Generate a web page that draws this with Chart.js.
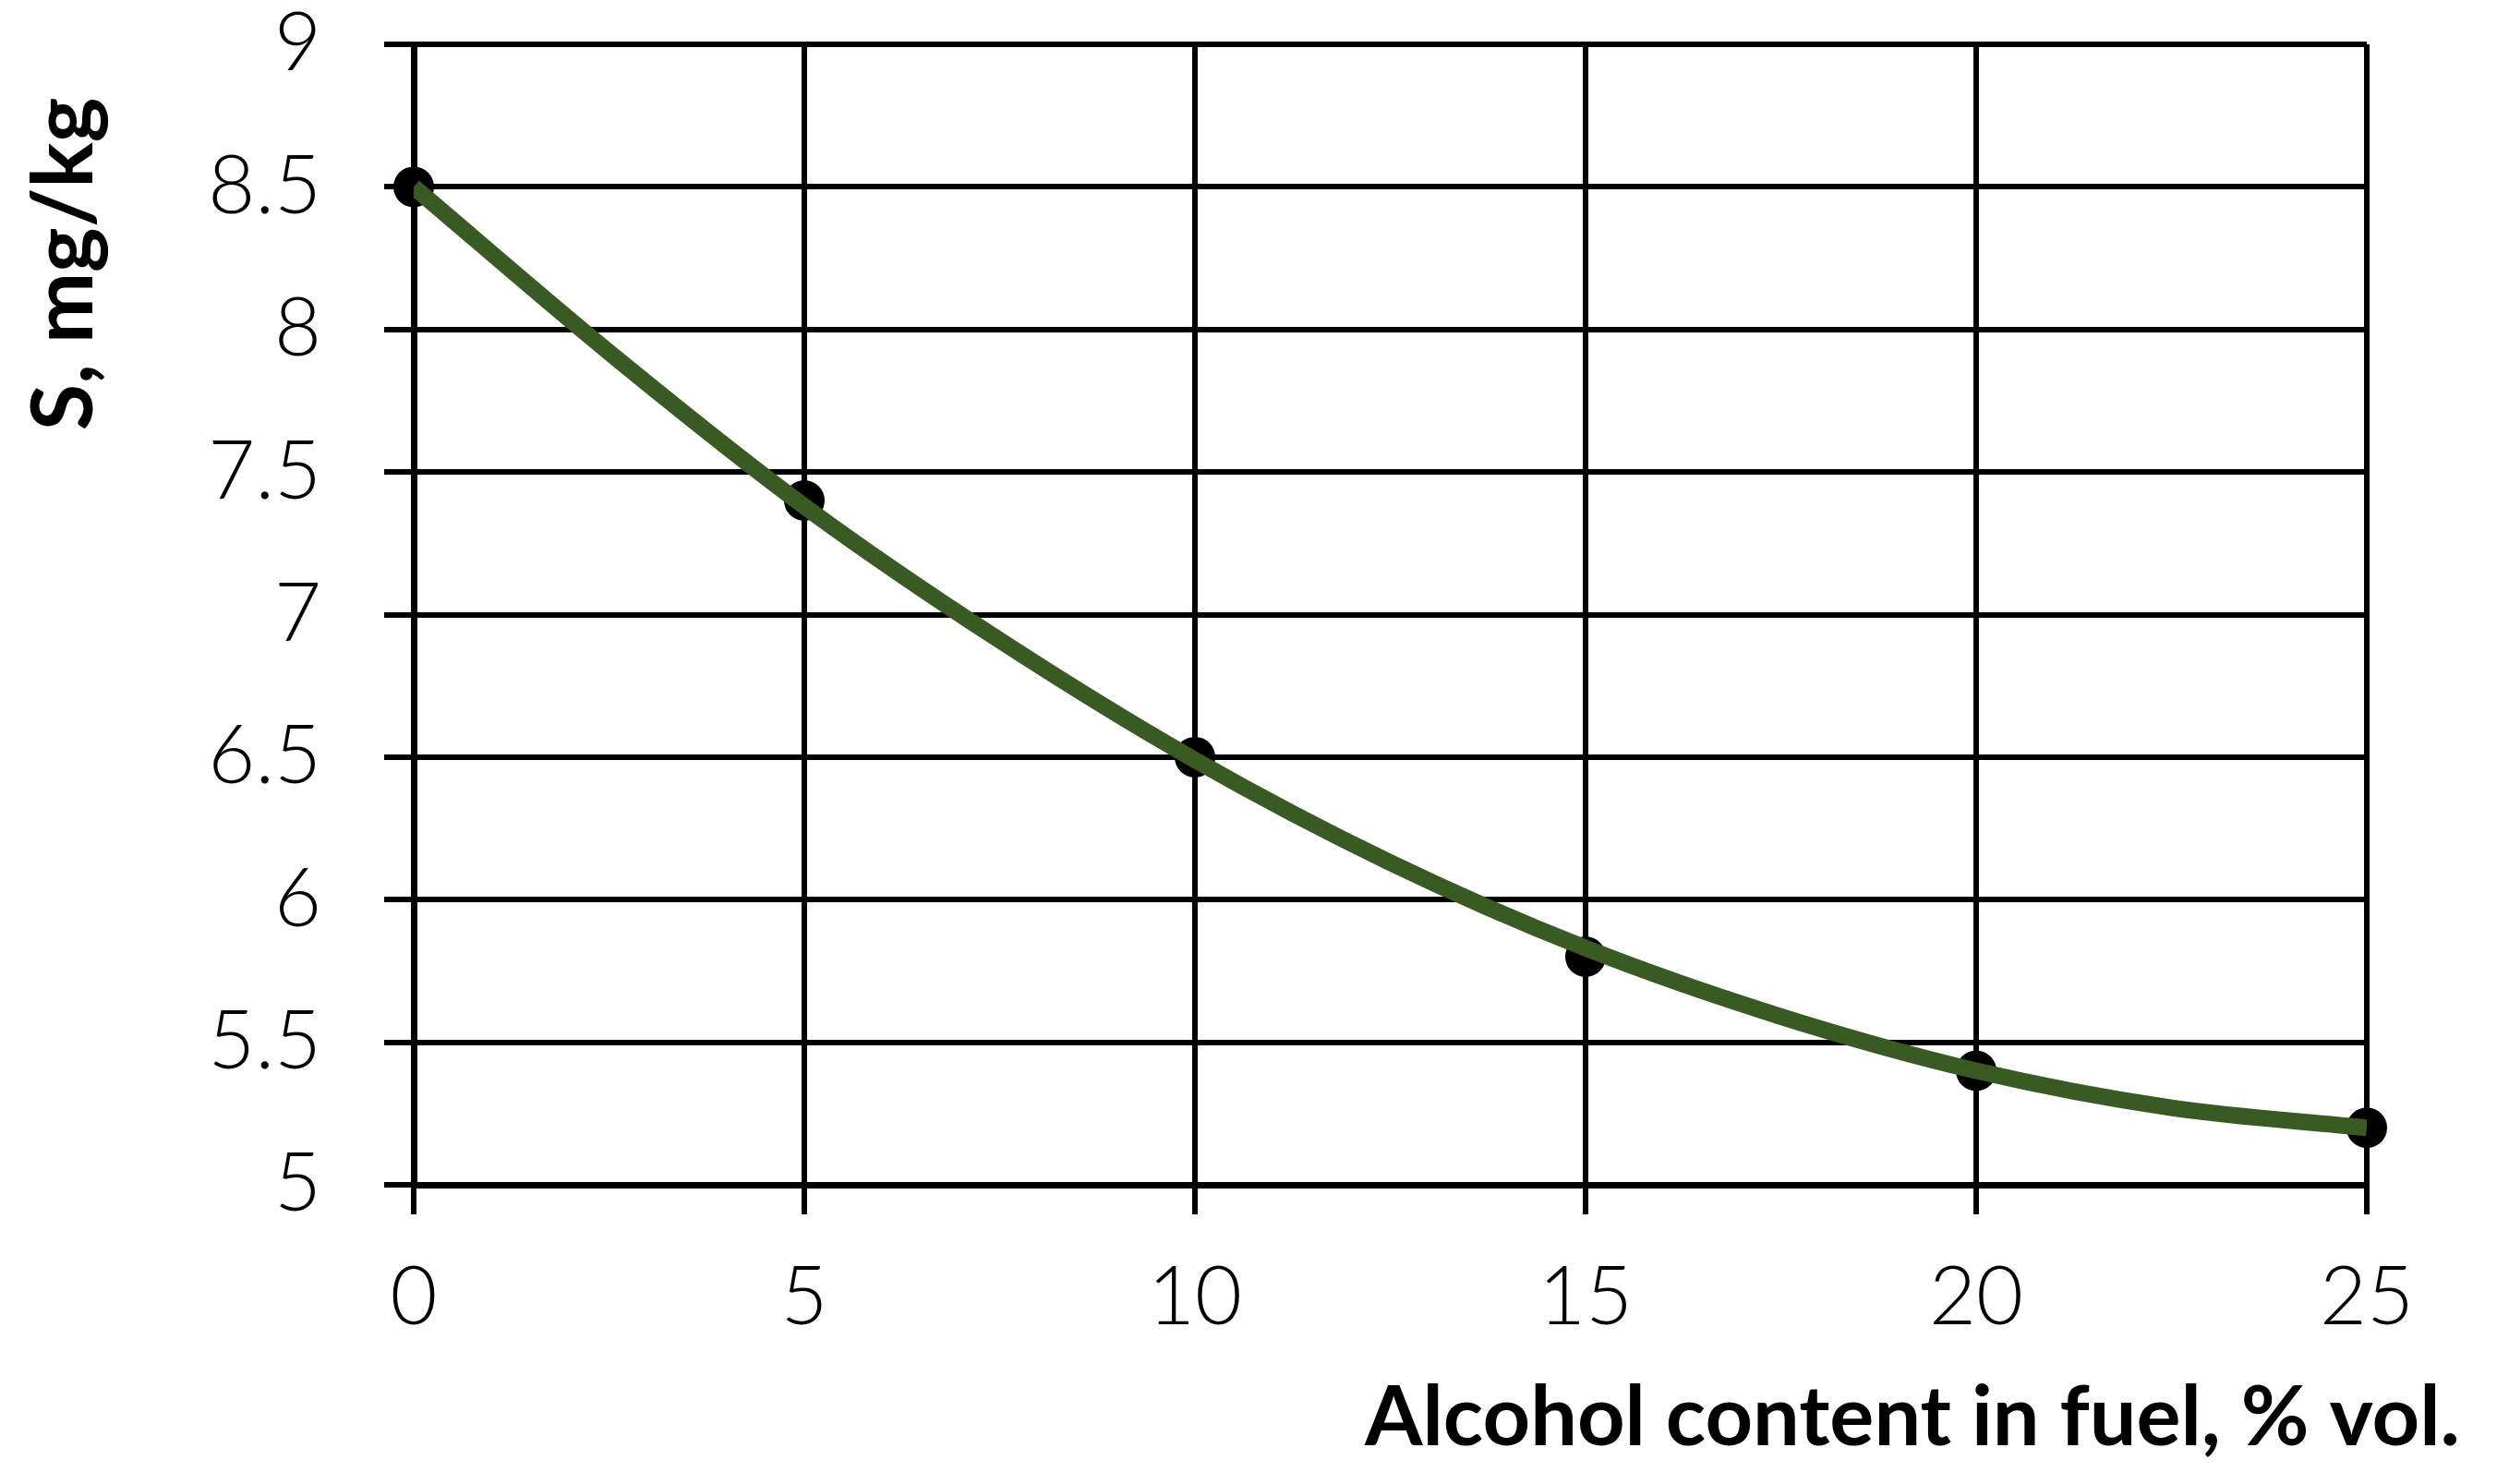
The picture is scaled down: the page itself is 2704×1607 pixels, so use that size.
<!DOCTYPE html>
<html>
<head>
<meta charset="utf-8">
<script src="https://cdn.jsdelivr.net/npm/chart.js@4.4.1/dist/chart.umd.min.js"></script>
<style>
  html, body { margin: 0; padding: 0; background: #fff; }
  canvas { display: block; }
</style>
</head>
<body>
<canvas id="chart" width="2704" height="1607"></canvas>
<script>
// measured points
const alcohol = [0, 5, 10, 15, 20, 25];
const sValues = [8.5, 7.4, 6.5, 5.8, 5.4, 5.2];

// trend curve
const trendX = [0, 2.5, 5, 7.5, 10, 12.5, 15, 17.5, 20, 22.5, 25];
const trendY = [8.5, 7.92, 7.38, 6.91, 6.49, 6.13, 5.83, 5.59, 5.4, 5.27, 5.2];

// axis ticks
const xTickValues = [0, 5, 10, 15, 20, 25];
const xTickLabels = ["0", "5", "10", "15", "20", "25"];
const yTickValues = [5, 5.5, 6, 6.5, 7, 7.5, 8, 8.5, 9];
const yTickLabels = ["5", "5.5", "6", "6.5", "7", "7.5", "8", "8.5", "9"];

const xTitle = "Alcohol content in fuel, % vol.";
const yTitle = "S, mg/kg";

const tickFont = { family: "Lato", size: 88, weight: 300 };

// axis titles sit where the original put them, not where Chart.js would
const axisTitles = {
  id: "axisTitles",
  afterDraw(chart) {
    const ctx = chart.ctx;
    ctx.save();
    ctx.fillStyle = "#000";
    ctx.textAlign = "center";
    ctx.textBaseline = "alphabetic";
    ctx.font = "bold 90px Lato";
    ctx.fillText(xTitle, 2071, 1565, 1222);

    ctx.translate(100, 286);
    ctx.rotate(-Math.PI / 2);
    ctx.font = "bold 92px Lato";
    ctx.fillText(yTitle, 0, 0, 365);
    ctx.restore();
  }
};

new Chart(document.getElementById("chart"), {
  type: "line",
  data: {
    datasets: [
      {
        label: "trend",
        data: trendX.map((x, i) => ({ x: x, y: trendY[i] })),
        borderColor: "#3a5a24",
        borderWidth: 18,
        borderCapStyle: "butt",
        pointRadius: 0,
        cubicInterpolationMode: "monotone",
        fill: false,
        order: 0
      },
      {
        label: "S",
        data: alcohol.map((x, i) => ({ x: x, y: sValues[i] })),
        showLine: false,
        pointRadius: 22,
        pointBackgroundColor: "#000",
        pointBorderColor: "#000",
        pointBorderWidth: 0,
        clip: false,
        order: 1
      }
    ]
  },
  options: {
    responsive: false,
    animation: false,
    events: [],
    layout: { padding: { left: 0, top: 48, right: 141, bottom: 0 } },
    plugins: {
      legend: { display: false },
      tooltip: { enabled: false }
    },
    scales: {
      x: {
        type: "linear",
        min: 0,
        max: 25,
        afterBuildTicks: (s) => { s.ticks = xTickValues.map(v => ({ value: v })); },
        afterFit: (s) => {
          s.height = 324;
          s.paddingLeft = 0;
          s.paddingRight = 0;
        },
        ticks: {
          callback: (v, i) => xTickLabels[i],
          font: tickFont,
          color: "#000",
          padding: 38,
          maxRotation: 0
        },
        grid: { color: "#000", lineWidth: 6, tickLength: 32 },
        border: { color: "#000", width: 7 }
      },
      y: {
        type: "linear",
        min: 5,
        max: 9,
        afterBuildTicks: (s) => { s.ticks = yTickValues.map(v => ({ value: v })); },
        afterFit: (s) => {
          s.width = 448;
          s.paddingTop = 0;
          s.paddingBottom = 0;
        },
        ticks: {
          callback: (v, i) => yTickLabels[i],
          font: tickFont,
          color: "#000",
          padding: 68
        },
        grid: { color: "#000", lineWidth: 6, tickLength: 32 },
        border: { color: "#000", width: 7 }
      }
    }
  },
  plugins: [axisTitles]
});
</script>
</body>
</html>
